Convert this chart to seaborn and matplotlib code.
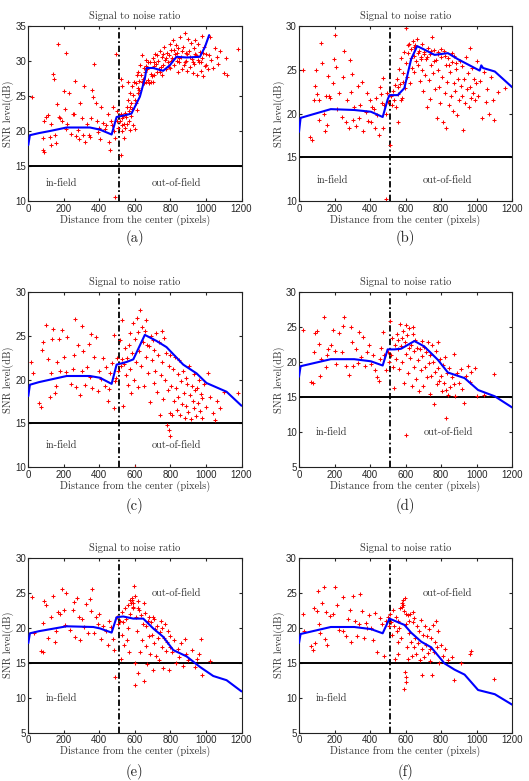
import numpy as np
import pandas as pd
import matplotlib
matplotlib.use("Agg")
import matplotlib.pyplot as plt
import seaborn as sns

sns.set_style("ticks")
plt.rcParams.update({
    "font.family": ["Liberation Sans", "DejaVu Sans"],
    "xtick.direction": "in",
    "ytick.direction": "in",
    "xtick.top": True,
    "ytick.right": True,
    "xtick.labelsize": 7,
    "ytick.labelsize": 7,
    "xtick.major.size": 2.5,
    "ytick.major.size": 2.5,
    "xtick.major.pad": 2,
    "ytick.major.pad": 1.5,
    "axes.linewidth": 0.8,
    "axes.edgecolor": "#222222",
})
SERIF = "cmr10"
TXT = 7.5

# ---- data --------------------------------------------------------------
boundary = 510   # in-field / out-of-field split (pixels)
threshold = 15   # SNR threshold (dB)
x_ticks = [0, 200, 400, 600, 800, 1000, 1200]
panel_labels = ["(a)", "(b)", "(c)", "(d)", "(e)", "(f)"]
y_ranges = [(10, 35), (10, 30), (10, 30), (5, 30), (5, 30), (5, 30)]

curve_a = [(0, 18.0), (9, 19.4), (60, 19.7), (122, 20.0), (216, 20.5), (347, 20.5),
           (403, 20.2), (469, 19.5), (497, 22.0), (553, 22.3), (581, 22.5), (628, 24.9),
           (656, 27.5), (666, 29.0), (703, 29.0), (759, 28.6), (797, 29.4), (834, 30.6),
           (891, 30.5), (966, 30.6), (994, 32.0), (1018, 33.7)]
curve_b = [(0, 17.9), (9, 19.5), (60, 19.8), (179, 20.5), (311, 20.4), (405, 20.2),
           (471, 19.6), (499, 21.6), (509, 22.1), (556, 22.1), (593, 22.9), (631, 26.2),
           (665, 27.7), (706, 27.3), (763, 26.7), (838, 26.9), (895, 26.2), (970, 25.4),
           (1017, 24.9), (1026, 25.5), (1036, 25.2), (1102, 24.8), (1200, 23.0)]
curve_c = [(0, 18.1), (9, 19.4), (60, 19.7), (216, 20.4), (347, 20.4), (403, 20.2),
           (469, 19.5), (497, 21.7), (553, 22.0), (591, 22.3), (656, 25.1), (722, 24.4),
           (778, 23.7), (872, 21.7), (947, 20.7), (1003, 19.6), (1116, 18.6), (1200, 17.0)]
curve_d = [(0, 17.9), (9, 19.4), (60, 19.7), (179, 20.4), (311, 20.4), (405, 20.1),
           (471, 19.5), (499, 21.8), (537, 21.8), (575, 21.9), (650, 23.0), (706, 22.2),
           (782, 20.3), (838, 18.5), (932, 17.7), (1008, 16.0), (1102, 15.1), (1200, 13.5)]
curve_e = [(0, 17.8), (9, 19.2), (60, 19.5), (216, 20.2), (366, 20.1), (403, 19.9),
           (469, 19.3), (497, 21.5), (534, 21.6), (591, 21.3), (647, 21.3), (703, 19.9),
           (759, 18.7), (816, 16.8), (891, 15.9), (966, 14.4), (1041, 13.1), (1116, 12.5),
           (1200, 10.9)]
curve_f = [(0, 17.8), (9, 19.1), (60, 19.4), (179, 20.1), (311, 20.1), (405, 19.8),
           (471, 19.2), (509, 21.3), (593, 20.4), (631, 19.3), (688, 18.0), (744, 17.2),
           (819, 14.9), (876, 14.0), (932, 13.3), (1008, 11.1), (1102, 10.5), (1200, 9.0)]

pts_a = [(22, 24.9), (80, 17.3), (90, 17.0), (85, 19.0), (90, 21.5), (100, 22.0), (110, 22.3),
         (120, 19.2), (130, 18.0), (130, 21.0), (140, 28.2), (145, 27.5), (150, 19.5),
         (155, 18.3), (160, 23.8), (165, 32.5), (170, 22.0), (180, 21.8), (190, 21.5),
         (200, 25.7), (205, 23.2), (210, 20.3), (215, 31.2), (220, 21.0), (230, 25.5),
         (240, 19.6), (250, 22.4), (260, 22.5), (265, 27.2), (270, 19.3), (280, 20.2),
         (285, 18.8), (290, 24.0), (300, 21.8), (310, 19.5), (315, 26.4), (320, 18.5),
         (330, 21.0), (340, 19.5), (350, 19.2), (355, 21.8), (360, 25.8), (365, 24.8),
         (370, 29.6), (380, 24.0), (385, 21.5), (390, 19.8), (400, 20.5), (405, 18.8),
         (410, 23.4), (420, 21.2), (430, 20.3), (440, 20.8), (450, 22.5), (455, 18.4),
         (460, 17.3), (465, 21.5), (470, 20.8), (475, 23.5), (485, 20.0), (490, 19.0),
         (495, 31.0), (490, 10.6), (500, 21.5), (505, 20.5), (500, 22.8),
         (515, 21.5), (520, 22.5), (525, 20.8), (530, 21.8), (535, 22.2), (540, 21.0),
         (545, 20.5), (550, 22.0), (555, 23.5), (560, 24.5), (565, 22.8), (570, 23.5),
         (575, 25.5), (580, 24.0), (585, 26.5), (590, 25.2), (595, 27.0), (600, 24.5),
         (605, 26.8), (610, 28.0), (615, 26.2), (620, 28.5), (625, 27.2), (630, 29.5),
         (635, 28.0), (640, 30.8), (645, 27.5), (650, 29.0), (655, 28.5), (660, 27.0),
         (665, 30.2), (670, 28.8), (675, 27.3), (680, 26.8), (685, 29.8), (690, 28.2),
         (695, 27.8), (700, 30.5), (705, 29.3), (710, 28.0), (715, 31.0), (720, 29.6),
         (725, 28.5), (730, 30.0), (735, 28.9), (740, 31.5), (745, 29.2), (750, 28.0),
         (755, 30.6), (760, 29.5), (765, 32.0), (770, 30.2), (775, 28.8), (780, 31.2),
         (785, 29.8), (790, 30.8), (795, 32.5), (800, 29.0), (805, 31.6), (810, 30.4),
         (815, 33.0), (820, 29.5), (825, 31.0), (830, 32.3), (835, 30.0), (840, 28.5),
         (845, 31.8), (850, 29.8), (855, 33.5), (860, 30.6), (865, 28.8), (870, 32.0),
         (875, 29.5), (880, 34.0), (885, 31.2), (890, 30.0), (895, 28.6), (900, 33.2),
         (905, 31.5), (910, 29.2), (915, 32.6), (920, 30.3), (925, 28.3), (930, 31.8),
         (935, 29.6), (940, 33.0), (945, 30.8), (950, 28.0), (955, 32.4), (960, 29.9),
         (965, 31.3), (970, 28.6), (975, 33.6), (980, 30.5), (985, 27.8), (990, 32.0),
         (995, 29.3), (1000, 31.0), (1010, 28.8), (1020, 33.4), (1030, 30.2), (1040, 29.0),
         (1050, 31.8), (1060, 30.6), (1070, 29.6), (1080, 31.5), (1100, 28.3), (1110, 30.4),
         (1120, 28.0), (1180, 31.7), (520, 16.6), (530, 20.0), (540, 19.0), (555, 21.0),
         (570, 20.2), (590, 20.8), (600, 20.3), (580, 22.2), (610, 23.0), (615, 25.5),
         (650, 26.8), (700, 27.0), (520, 27.5), (560, 27.0), (530, 26.5),
         (545, 22.6), (565, 21.5), (585, 23.2), (605, 24.0), (625, 25.8), (640, 27.0),
         (660, 29.3), (675, 29.8), (690, 27.0), (710, 29.8), (725, 30.8), (740, 28.5),
         (760, 31.0), (775, 30.4), (790, 29.2), (805, 30.0), (820, 31.6), (835, 31.2),
         (850, 30.4), (865, 31.5), (880, 29.8), (895, 31.0), (910, 30.6), (925, 29.8),
         (940, 31.0), (955, 30.2), (970, 29.8), (985, 31.2), (1000, 29.5), (1015, 30.8)]

pts_b = [(20, 25.0), (60, 17.3), (75, 17.0), (85, 21.6), (90, 23.2), (95, 25.0), (100, 22.2),
         (110, 19.3), (115, 21.5), (125, 28.1), (130, 25.8), (140, 20.0), (145, 18.0),
         (150, 22.0), (160, 18.7), (165, 24.3), (170, 22.0), (175, 21.8), (190, 23.5),
         (195, 26.2), (200, 29.0), (210, 25.3), (215, 20.5), (225, 22.3), (240, 19.6),
         (250, 24.2), (255, 27.2), (265, 19.0), (270, 21.5), (280, 18.4), (285, 26.1),
         (290, 22.5), (300, 24.5), (305, 19.3), (310, 20.8), (320, 18.6), (330, 23.2),
         (340, 19.5), (345, 21.0), (355, 23.6), (360, 18.0), (375, 20.2), (385, 22.3),
         (390, 19.2), (400, 21.5), (405, 19.0), (410, 20.8), (420, 20.5), (430, 18.4),
         (435, 21.8), (440, 19.8), (450, 17.5), (455, 23.0), (460, 22.2), (465, 21.2),
         (470, 18.4), (475, 24.1), (480, 21.0), (490, 20.0), (495, 22.3), (490, 10.2),
         (500, 21.3),
         (515, 16.4), (520, 22.0), (525, 21.0), (530, 22.6), (535, 21.5), (540, 23.3),
         (545, 20.8), (550, 24.0), (555, 22.2), (560, 19.0), (565, 25.1), (570, 23.4),
         (575, 26.4), (580, 21.8), (585, 24.6), (590, 27.0), (595, 22.9), (600, 29.8),
         (605, 25.8), (610, 24.2), (615, 26.9), (620, 28.0), (625, 23.5), (630, 27.4),
         (635, 25.2), (640, 28.3), (645, 26.6), (650, 24.8), (655, 27.8), (660, 26.0),
         (665, 28.5), (670, 25.5), (675, 27.2), (680, 23.7), (685, 26.5), (690, 27.9),
         (695, 25.0), (700, 22.6), (705, 27.0), (710, 24.4), (715, 26.2), (720, 20.8),
         (725, 27.5), (730, 23.8), (735, 26.8), (740, 21.7), (745, 25.6), (750, 28.8),
         (755, 24.6), (760, 27.3), (765, 22.8), (770, 26.1), (775, 19.5), (780, 25.0),
         (785, 27.0), (790, 23.0), (795, 21.2), (800, 26.5), (805, 24.2), (810, 19.0),
         (815, 27.2), (820, 22.4), (825, 25.5), (830, 18.4), (835, 23.6), (840, 26.3),
         (845, 21.0), (850, 24.8), (855, 22.0), (860, 25.9), (865, 20.3), (870, 23.5),
         (875, 26.6), (880, 22.6), (885, 25.1), (890, 19.8), (895, 24.0), (900, 21.5),
         (905, 26.0), (910, 23.2), (915, 22.0), (920, 25.4), (925, 18.1), (930, 23.9),
         (935, 21.2), (940, 26.5), (945, 22.8), (950, 24.6), (955, 20.8), (960, 27.5),
         (965, 23.0), (970, 21.8), (975, 25.2), (980, 22.3), (985, 24.0), (990, 21.5),
         (995, 23.5), (1000, 26.0), (1010, 22.0), (1020, 23.7), (1030, 19.5), (1040, 24.8),
         (1050, 21.3), (1060, 22.8), (1070, 20.0), (1080, 24.2), (1090, 21.6), (1100, 19.3),
         (1120, 22.5), (1160, 22.9),
         (612, 27.8), (628, 26.4), (648, 27.6), (668, 26.9), (688, 26.2), (702, 26.8),
         (722, 26.5), (742, 27.2), (762, 26.0), (782, 26.8), (802, 27.4), (822, 26.6),
         (842, 25.6), (862, 26.9), (882, 25.8), (558, 23.0), (572, 21.6), (588, 23.6)]

pts_c = [(15, 22.0), (25, 20.8), (60, 17.3), (70, 16.9), (75, 23.4), (80, 24.3), (100, 26.2),
         (110, 22.3), (120, 18.0), (125, 20.8), (135, 24.6), (140, 25.8), (150, 18.5),
         (155, 19.3), (160, 22.0), (170, 24.6), (180, 21.0), (190, 25.7), (200, 22.6),
         (210, 20.9), (220, 24.9), (240, 19.5), (250, 21.2), (255, 22.8), (265, 26.9),
         (270, 19.1), (280, 23.9), (290, 18.2), (300, 21.0), (305, 26.1), (310, 23.3),
         (320, 19.4), (330, 21.4), (340, 24.1), (350, 20.3), (355, 25.2), (360, 19.0),
         (370, 22.6), (380, 24.9), (390, 18.7), (400, 21.0), (410, 20.1), (420, 22.5),
         (430, 19.3), (440, 21.4), (450, 17.5), (455, 18.9), (460, 20.8), (470, 21.9),
         (480, 25.1), (485, 16.8), (490, 19.8), (495, 20.2), (500, 22.5), (505, 21.0),
         (515, 24.5), (520, 21.5), (525, 26.8), (530, 22.3), (535, 17.0), (540, 21.8),
         (545, 23.6), (550, 20.5), (555, 22.5), (560, 19.4), (565, 24.0), (570, 21.2),
         (575, 25.3), (580, 18.5), (585, 23.0), (590, 26.5), (595, 20.0), (600, 24.6),
         (605, 22.0), (610, 27.0), (615, 19.2), (620, 25.4), (625, 23.3), (630, 28.0),
         (635, 21.5), (640, 26.0), (645, 24.3), (650, 19.3), (655, 25.6), (660, 22.6),
         (665, 26.8), (670, 24.0), (675, 20.8), (680, 23.8), (685, 17.4), (690, 25.0),
         (695, 22.2), (700, 24.5), (705, 19.6), (710, 23.4), (715, 21.0), (720, 25.3),
         (725, 18.6), (730, 22.8), (735, 24.3), (740, 16.0), (745, 20.5), (750, 25.6),
         (755, 22.0), (760, 17.8), (765, 24.8), (770, 20.0), (775, 23.0), (780, 14.8),
         (785, 18.8), (790, 21.5), (795, 16.2), (800, 22.8), (800, 13.5), (805, 19.3),
         (810, 15.9), (815, 21.2), (820, 17.5), (825, 22.6), (830, 19.0), (835, 16.5),
         (840, 20.6), (845, 18.0), (850, 22.2), (855, 16.0), (860, 19.8), (865, 17.2),
         (870, 21.0), (875, 18.5), (880, 15.6), (885, 20.2), (890, 17.0), (895, 19.5),
         (900, 16.3), (905, 21.6), (910, 18.2), (915, 15.5), (920, 19.3), (925, 17.6),
         (930, 20.6), (935, 16.8), (940, 18.8), (945, 15.8), (950, 19.0), (955, 17.3),
         (960, 20.0), (965, 16.4), (970, 18.4), (975, 15.6), (980, 17.9), (990, 19.5),
         (1000, 16.9), (1010, 20.8), (1020, 18.0), (1040, 16.2), (1050, 15.4), (1060, 17.5),
         (1080, 16.7), (1100, 18.6), (1180, 18.5), (790, 14.2), (600, 10.0)]

pts_d = [(20, 24.6), (70, 17.2), (80, 17.0), (85, 21.4), (90, 24.1), (100, 24.4), (110, 22.6),
         (120, 18.0), (125, 20.4), (140, 26.5), (150, 19.3), (155, 21.0), (165, 21.8),
         (180, 22.5), (190, 24.6), (200, 21.6), (210, 19.7), (225, 24.1), (240, 21.5),
         (250, 25.2), (255, 26.4), (265, 19.5), (280, 18.2), (290, 25.0), (300, 22.9),
         (305, 19.5), (320, 21.8), (330, 19.8), (340, 24.3), (350, 20.7), (360, 23.6),
         (370, 19.5), (385, 21.4), (395, 22.4), (405, 19.7), (415, 21.0), (425, 18.9),
         (440, 17.9), (450, 17.3), (455, 20.4), (460, 22.0), (470, 24.3), (480, 21.0),
         (490, 18.8), (500, 21.5), (505, 20.0),
         (515, 25.8), (520, 21.0), (525, 23.5), (530, 19.3), (535, 16.3), (540, 22.4),
         (545, 20.5), (550, 24.0), (555, 21.8), (560, 23.1), (565, 19.0), (570, 25.5),
         (575, 22.3), (580, 20.0), (585, 24.5), (590, 17.0), (595, 22.8), (600, 25.3),
         (605, 21.2), (610, 23.8), (615, 18.5), (620, 24.9), (625, 20.6), (630, 22.5),
         (635, 16.6), (640, 24.0), (645, 21.6), (650, 19.3), (655, 23.2), (660, 17.6),
         (665, 22.0), (670, 20.3), (675, 15.8), (680, 21.8), (685, 18.8), (690, 23.0),
         (695, 20.8), (700, 16.6), (705, 22.2), (710, 19.3), (715, 21.5), (720, 17.8),
         (725, 22.8), (730, 19.8), (735, 15.5), (740, 21.0), (745, 18.0), (750, 22.4),
         (755, 20.0), (760, 14.0), (765, 18.6), (770, 21.6), (775, 16.8), (780, 19.2),
         (785, 22.9), (790, 17.3), (795, 20.4), (800, 18.0), (805, 15.8), (810, 19.6),
         (815, 17.0), (820, 20.7), (825, 16.0), (830, 12.0), (835, 18.5), (840, 15.3),
         (845, 19.2), (850, 16.5), (860, 17.8), (870, 16.9), (875, 21.2), (880, 15.2),
         (890, 18.5), (900, 17.0), (910, 19.0), (920, 16.2), (930, 14.2), (940, 18.0),
         (950, 19.4), (960, 17.1), (970, 18.6), (990, 19.2), (1000, 15.2), (1040, 15.3),
         (1100, 18.3), (600, 9.6), (580, 23.5), (640, 25.0), (620, 22.0)]

pts_e = [(20, 24.4), (30, 19.2), (70, 16.7), (80, 16.5), (85, 20.7), (90, 23.8), (100, 23.3),
         (110, 18.5), (130, 21.5), (140, 24.5), (150, 17.9), (155, 19.5), (165, 22.3),
         (180, 21.9), (190, 25.5), (200, 22.5), (205, 20.4), (215, 25.0), (235, 19.7),
         (250, 22.5), (255, 23.7), (265, 18.7), (275, 24.2), (285, 21.6), (290, 18.2),
         (300, 21.3), (315, 20.1), (325, 23.4), (335, 19.2), (345, 24.1), (355, 22.4),
         (360, 25.6), (370, 19.3), (380, 21.5), (390, 20.6), (400, 22.0), (410, 18.4),
         (420, 20.3), (435, 19.5), (450, 17.5), (455, 21.0), (465, 20.1), (475, 18.4),
         (480, 16.8), (490, 13.0), (500, 21.5), (505, 20.6),
         (515, 21.0), (520, 15.5), (525, 22.3), (530, 19.0), (535, 20.8), (540, 17.5),
         (545, 22.8), (550, 21.3), (555, 18.2), (560, 23.3), (565, 16.6), (570, 22.0),
         (575, 24.0), (580, 23.5), (582, 23.9), (585, 24.2), (588, 22.8), (590, 23.6),
         (592, 23.0), (595, 26.0), (598, 24.5), (600, 15.0), (600, 11.8), (605, 21.6),
         (610, 19.6), (615, 23.8), (620, 13.6), (625, 22.5), (630, 16.5), (635, 21.8),
         (640, 18.3), (645, 20.6), (650, 12.4), (655, 22.1), (660, 17.4), (665, 20.2),
         (670, 14.8), (675, 21.0), (680, 18.8), (685, 16.2), (690, 20.8), (695, 19.0),
         (700, 14.0), (705, 21.2), (710, 17.8), (715, 19.8), (720, 16.0), (725, 20.3),
         (730, 18.6), (735, 15.4), (740, 19.4), (745, 21.0), (750, 17.3), (755, 19.9),
         (760, 14.2), (765, 18.5), (770, 20.5), (775, 16.7), (780, 18.0), (785, 19.5),
         (790, 14.0), (795, 17.2), (800, 18.8), (810, 16.5), (820, 18.2), (830, 15.0),
         (840, 17.0), (850, 15.8), (860, 17.8), (870, 14.6), (880, 18.4), (890, 16.2),
         (900, 15.4), (920, 16.8), (940, 14.4), (950, 15.6), (960, 16.3), (970, 18.4),
         (980, 13.3), (1020, 15.3), (650, 23.5), (700, 21.5), (560, 20.0), (620, 22.8),
         (680, 21.5)]

pts_f = [(20, 22.0), (30, 19.5), (70, 17.4), (80, 16.8), (85, 22.8), (90, 17.8), (100, 22.4),
         (105, 25.2), (115, 20.5), (120, 19.3), (130, 23.6), (140, 25.8), (145, 18.4),
         (150, 22.2), (160, 17.5), (175, 21.7), (190, 21.9), (205, 25.8), (215, 23.2),
         (225, 19.7), (245, 19.5), (250, 24.4), (265, 18.8), (275, 21.3), (285, 22.6),
         (295, 18.0), (305, 24.5), (315, 20.9), (325, 18.8), (335, 20.5), (345, 24.8),
         (355, 22.4), (365, 18.5), (375, 20.7), (385, 20.0), (395, 21.8), (405, 20.0),
         (415, 18.3), (425, 22.1), (440, 16.6), (455, 21.4), (465, 20.5), (480, 15.9),
         (490, 20.9), (500, 21.5), (505, 20.2),
         (515, 22.0), (520, 20.8), (525, 19.0), (530, 22.5), (535, 20.3), (540, 15.5),
         (545, 21.6), (550, 19.6), (555, 16.3), (560, 21.0), (565, 20.0), (570, 22.8),
         (575, 18.6), (580, 23.5), (582, 22.9), (585, 24.0), (588, 23.2), (590, 11.3),
         (592, 22.4), (595, 24.3), (598, 13.7), (600, 12.3), (602, 20.6), (605, 13.0),
         (608, 17.2), (612, 21.8), (615, 15.6), (620, 19.3), (625, 22.0), (630, 18.0),
         (635, 15.9), (640, 20.8), (645, 17.3), (650, 21.4), (655, 18.6), (660, 16.2),
         (665, 20.2), (670, 17.8), (675, 19.5), (680, 15.4), (685, 21.1), (690, 13.3),
         (695, 17.0), (700, 19.0), (705, 15.8), (710, 20.3), (715, 17.5), (720, 18.8),
         (725, 16.4), (730, 19.8), (735, 17.0), (740, 15.2), (745, 18.6), (750, 13.3),
         (755, 20.4), (760, 16.6), (765, 18.0), (770, 21.0), (775, 17.2), (780, 19.5),
         (790, 15.0), (800, 17.6), (810, 16.0), (820, 17.0), (840, 15.4), (860, 15.8),
         (870, 12.5), (910, 15.0), (960, 16.2), (970, 16.7), (1095, 12.7), (600, 22.0),
         (620, 21.0), (640, 22.2), (560, 18.0)]

# label positions (data coords) per panel: in-field, out-of-field
label_pos = [((185, 12.5), (834, 12.5)), ((187, 12.4), (835, 12.4)),
             ((184, 12.5), (834, 12.5)), ((185, 9.9), (844, 9.9)),
             ((188, 9.9), (834, 24.9)), ((185, 9.9), (835, 24.9))]

points = [pts_a, pts_b, pts_c, pts_d, pts_e, pts_f]
curves = [curve_a, curve_b, curve_c, curve_d, curve_e, curve_f]

# ---- figure -------------------------------------------------------------
W, H = 529, 781
fig = plt.figure(figsize=(W / 100, H / 100), dpi=100)
lefts = [28.3, 299.0]
bottoms = [201.0, 467.0, 732.7]   # pixel rows of axes bottoms
ax_w, ax_h = 213.2, 175.0
caption_y = [238, 506, 772]

for i in range(6):
    r, c = divmod(i, 2)
    ax = fig.add_axes([lefts[c] / W, 1 - bottoms[r] / H, ax_w / W, ax_h / H])
    pts = pd.DataFrame(points[i], columns=["dist", "snr"])
    cur = pd.DataFrame(curves[i], columns=["dist", "snr"])

    ax.axvline(boundary, color="black", ls=(0, (3.5, 1.5, 1, 1.5)), lw=1.3, zorder=1)
    ax.axhline(threshold, color="black", lw=1.4, zorder=1)
    sns.scatterplot(data=pts, x="dist", y="snr", marker="+", color="red", s=10,
                    linewidth=0.75, ax=ax, zorder=2)
    sns.lineplot(data=cur, x="dist", y="snr", sort=False, color="blue", lw=1.5,
                 ax=ax, zorder=3)

    ax.set_xlim(0, 1200)
    ax.set_ylim(*y_ranges[i])
    ax.set_xticks(x_ticks)
    ax.set_yticks(np.arange(y_ranges[i][0], y_ranges[i][1] + 1, 5))
    ax.set_title("Signal to noise ratio", fontfamily=SERIF, fontsize=TXT, pad=5,
                 color="#333333")
    ax.set_xlabel("Distance from the center (pixels)", fontfamily=SERIF,
                  fontsize=TXT, labelpad=0.5, color="#333333")
    ax.set_ylabel("SNR level(dB)", fontfamily=SERIF, fontsize=TXT, labelpad=1,
                  color="#333333")
    (ix, iy), (ox, oy) = label_pos[i]
    ax.text(ix, iy, "in-field", fontfamily=SERIF, fontsize=TXT, ha="center",
            va="center", color="#333333")
    ax.text(ox, oy, "out-of-field", fontfamily=SERIF, fontsize=TXT, ha="center",
            va="center", color="#333333")

    fig.text((lefts[c] + ax_w / 2) / W, 1 - caption_y[r] / H, panel_labels[i],
             fontfamily=SERIF, fontsize=10.5, ha="center", va="center", color="#222222")

fig.savefig("out.png", dpi=100)
